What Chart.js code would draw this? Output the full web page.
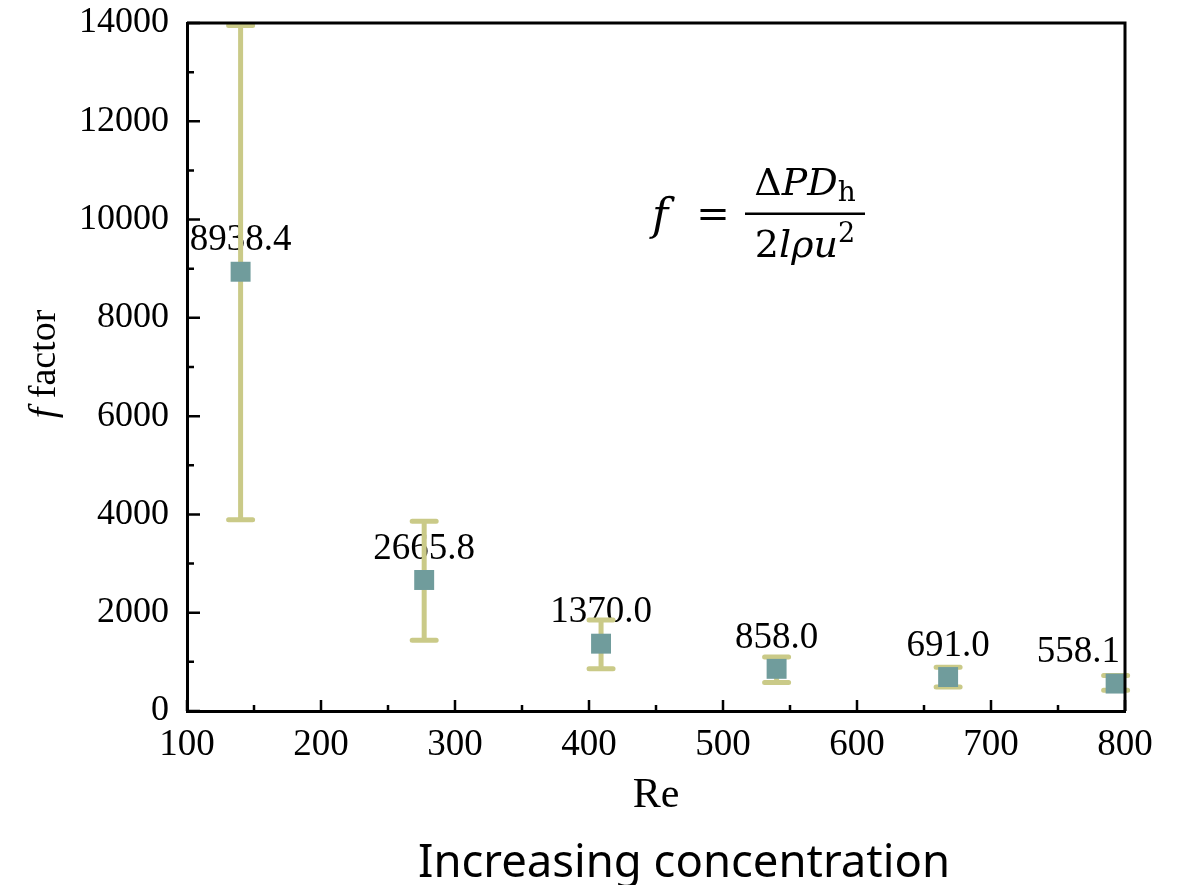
<!DOCTYPE html>
<html>
<head>
<meta charset="utf-8">
<script src="https://cdn.jsdelivr.net/npm/chart.js@4.4.0/dist/chart.umd.min.js"></script>
<style>
  body { margin: 0; background: #fff; }
  #wrap { width: 1177px; height: 885px; position: relative; }
</style>
</head>
<body>
<div id="wrap"><canvas id="chart"></canvas></div>
<script>
// data
const reynolds = [140, 277, 409, 540, 668, 793]
const fFactor = [8938.4, 2665.8, 1370.0, 858.0, 691.0, 558.1]
const errUpper = [13950, 3860, 1850, 1100, 890, 720]
const errLower = [3890, 1440, 860, 580, 490, 420]
const valueLabels = ['8938.4', '2665.8', '1370.0', '858.0', '691.0', '558.1']
const xRange = [100, 800]
const yRange = [0, 14000]

const serif = "'Liberation Serif', 'Times New Roman', serif"
const mathFont = "'DejaVu Serif', serif"
const markColor = 'rgb(112, 156, 156)'
const barColor = 'rgb(202, 202, 136)'

const decorations = {
  id: 'decorations',
  beforeDatasetsDraw(chart) {
    const { ctx, chartArea, scales: { x, y } } = chart
    ctx.save()
    // value labels (sit under the error bars)
    ctx.font = '37px ' + serif
    ctx.fillStyle = '#000'
    ctx.textAlign = 'center'
    ctx.textBaseline = 'middle'
    for (let i = 0; i < reynolds.length; i++) {
      const px = x.getPixelForValue(reynolds[i])
      const py = y.getPixelForValue(fFactor[i])
      const w = ctx.measureText(valueLabels[i]).width
      const cx = Math.min(px, chartArea.right - 5 - w / 2)
      ctx.fillText(valueLabels[i], cx, py - 31)
    }
    // error bars
    ctx.strokeStyle = barColor
    ctx.lineWidth = 5
    ctx.lineCap = 'round'
    for (let i = 0; i < reynolds.length; i++) {
      const px = x.getPixelForValue(reynolds[i])
      const top = y.getPixelForValue(errUpper[i])
      const bot = y.getPixelForValue(errLower[i])
      ctx.beginPath()
      ctx.moveTo(px, top)
      ctx.lineTo(px, bot)
      ctx.moveTo(px - 12, top)
      ctx.lineTo(px + 12, top)
      ctx.moveTo(px - 12, bot)
      ctx.lineTo(px + 12, bot)
      ctx.stroke()
    }
    ctx.restore()
  },
  afterDraw(chart) {
    const { ctx, chartArea: area, scales: { x, y } } = chart
    ctx.save()
    ctx.strokeStyle = '#000'
    ctx.fillStyle = '#000'

    // top and right frame lines
    ctx.lineWidth = 3
    ctx.beginPath()
    ctx.moveTo(area.left, area.top)
    ctx.lineTo(area.right, area.top)
    ctx.lineTo(area.right, area.bottom)
    ctx.stroke()

    // inward tick marks, major + minor
    ctx.lineWidth = 2.5
    ctx.beginPath()
    for (let v = yRange[0]; v <= yRange[1]; v += 1000) {
      const py = y.getPixelForValue(v)
      const len = v % 2000 === 0 ? 13 : 7
      ctx.moveTo(area.left, py)
      ctx.lineTo(area.left + len, py)
    }
    for (let v = xRange[0]; v <= xRange[1]; v += 50) {
      const px = x.getPixelForValue(v)
      const len = v % 100 === 0 ? 11 : 6
      ctx.moveTo(px, area.bottom)
      ctx.lineTo(px, area.bottom - len)
    }
    ctx.stroke()

    // y axis title: italic f + "factor"
    ctx.save()
    ctx.translate(55, 364)
    ctx.rotate(-Math.PI / 2)
    ctx.textBaseline = 'alphabetic'
    ctx.textAlign = 'left'
    ctx.font = 'italic 38px ' + serif
    const wf = ctx.measureText('f').width
    ctx.font = '38px ' + serif
    const wr = ctx.measureText(' factor').width
    let sx = -(wf + wr) / 2
    ctx.font = 'italic 38px ' + serif
    ctx.fillText('f', sx, 0)
    ctx.font = '38px ' + serif
    ctx.fillText(' factor', sx + wf, 0)
    ctx.restore()

    // formula f = ΔPD_h / 2lρu²
    ctx.textAlign = 'left'
    ctx.textBaseline = 'alphabetic'
    ctx.font = 'italic 44px ' + mathFont
    ctx.fillText('f', 652, 230)
    ctx.font = '40px ' + mathFont
    ctx.textAlign = 'center'
    ctx.fillText('=', 713, 227)
    ctx.fillRect(745, 212.5, 120, 2.5)
    const drawRow = (parts, cx, base) => {
      ctx.textAlign = 'left'
      let total = 0
      for (const p of parts) {
        ctx.font = p[1]
        total += ctx.measureText(p[0]).width
      }
      let px = cx - total / 2
      for (const p of parts) {
        ctx.font = p[1]
        ctx.fillText(p[0], px, base + (p[2] || 0))
        px += ctx.measureText(p[0]).width
      }
    }
    drawRow([
      ['Δ', '38px ' + mathFont],
      ['P', 'italic 38px ' + mathFont],
      ['D', 'italic 38px ' + mathFont],
      ['h', '28px ' + mathFont, 6]
    ], 805, 195)
    drawRow([
      ['2', '38px ' + mathFont],
      ['l', 'italic 38px ' + mathFont],
      ['ρ', 'italic 38px ' + mathFont],
      ['u', 'italic 38px ' + mathFont],
      ['2', '27px ' + mathFont, -15]
    ], 805, 257)

    // caption under the chart
    ctx.font = "46px 'Noto Sans', sans-serif"
    const cw = ctx.measureText('Increasing concentration').width
    ctx.translate(684, 877)
    ctx.scale(532 / cw, 1)
    ctx.textAlign = 'center'
    ctx.fillText('Increasing concentration', 0, 0)
    ctx.restore()
  }
}

new Chart(document.getElementById('chart').getContext('2d'), {
  type: 'scatter',
  data: {
    datasets: [
      {
        label: 'f factor',
        data: reynolds.map((r, i) => ({ x: r, y: fFactor[i] })),
        pointStyle: 'rect',
        pointRadius: 14.1,
        pointHoverRadius: 14.1,
        backgroundColor: markColor,
        borderColor: markColor,
        borderWidth: 0
      }
    ]
  },
  options: {
    responsive: true,
    maintainAspectRatio: false,
    animation: false,
    events: [],
    layout: { padding: { top: 23, right: 52, bottom: 0, left: 0 } },
    plugins: {
      legend: { display: false },
      tooltip: { enabled: false }
    },
    scales: {
      x: {
        type: 'linear',
        min: xRange[0],
        max: xRange[1],
        grid: { display: false, drawTicks: false },
        border: { display: true, color: '#000', width: 3 },
        ticks: {
          stepSize: 100,
          padding: 12,
          color: '#000',
          font: { family: serif, size: 37 },
          maxRotation: 0,
          callback: (v) => String(v)
        },
        title: {
          display: true,
          text: 'Re',
          color: '#000',
          font: { family: serif, size: 42 },
          padding: { top: 0, bottom: 64 }
        },
        afterFit: (scale) => {
          scale.height = 174
          scale.paddingLeft = 0
          scale.paddingRight = 0
        }
      },
      y: {
        type: 'linear',
        min: yRange[0],
        max: yRange[1],
        grid: { display: false, drawTicks: false },
        border: { display: true, color: '#000', width: 3 },
        ticks: {
          stepSize: 2000,
          padding: 18,
          color: '#000',
          font: { family: serif, size: 36 },
          callback: (v) => String(v)
        },
        afterFit: (scale) => {
          scale.width = 187
          scale.paddingTop = 0
          scale.paddingBottom = 0
        }
      }
    }
  },
  plugins: [decorations]
})
</script>
</body>
</html>
